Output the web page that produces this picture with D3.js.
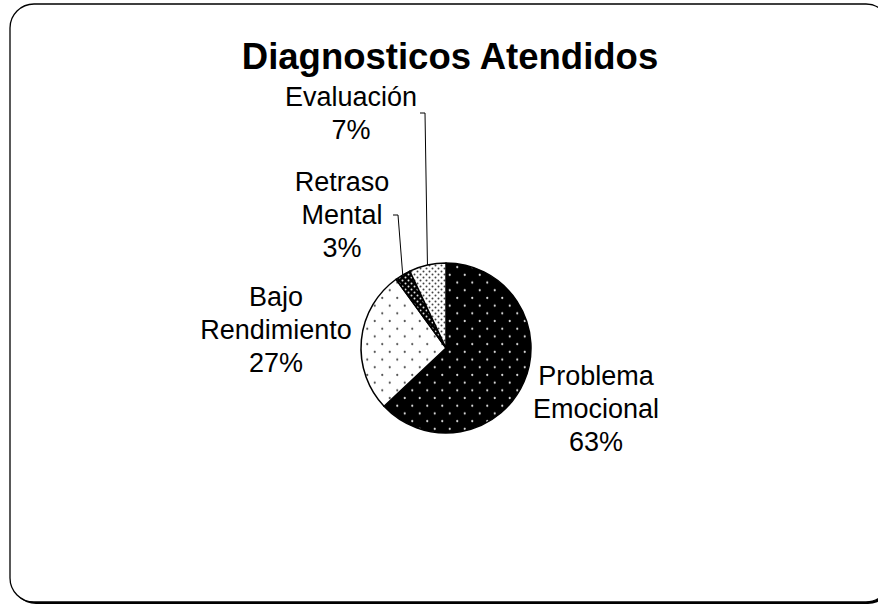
<!DOCTYPE html>
<html>
<head>
<meta charset="utf-8">
<script src="https://cdn.jsdelivr.net/npm/d3@7/dist/d3.min.js"></script>
<style>
  html, body { margin: 0; padding: 0; background: #fff; }
  svg { display: block; }
  text { font-family: "Liberation Sans", Arial, sans-serif; fill: #000; }
</style>
</head>
<body>
<svg id="chart" width="878" height="607"></svg>
<script>
// ---- data ----
const title = "Diagnosticos Atendidos";
const categories = ["Problema Emocional", "Bajo Rendimiento", "Retraso Mental", "Evaluación"];
const labelLines = [["Problema", "Emocional"], ["Bajo", "Rendimiento"], ["Retraso", "Mental"], ["Evaluación"]];
const values = [63, 27, 3, 7];
const percentLabels = ["63%", "27%", "3%", "7%"];

// ---- layout ----
const svg = d3.select("#chart");
const cx = 446, cy = 348, R = 85;

// patterns
const defs = svg.append("defs");
function dotPattern(id, bg, fg, w, h, r) {
  const p = defs.append("pattern").attr("id", id).attr("patternUnits", "userSpaceOnUse")
    .attr("width", w).attr("height", h);
  p.append("rect").attr("width", w).attr("height", h).attr("fill", bg);
  [[w / 4, h / 4], [3 * w / 4, 3 * h / 4]].forEach(([x, y]) =>
    p.append("circle").attr("cx", x).attr("cy", y).attr("r", r).attr("fill", fg));
}
dotPattern("pEmo", "#000", "#d8d8d8", 15, 15.4, 1.1);
dotPattern("pBajo", "#fff", "#555", 15, 15.4, 1.1);
dotPattern("pRet", "#000", "#e0e0e0", 6, 6, 1.0);
dotPattern("pEval", "#fff", "#444", 6, 6, 1.0);
const fills = ["url(#pEmo)", "url(#pBajo)", "url(#pRet)", "url(#pEval)"];

// frame with shadow
svg.append("rect").attr("x", 12).attr("y", 6).attr("width", 880).attr("height", 598)
  .attr("rx", 24).attr("ry", 24).attr("fill", "#000");
svg.append("rect").attr("x", 10).attr("y", 4).attr("width", 880).attr("height", 598)
  .attr("rx", 24).attr("ry", 24).attr("fill", "#fff").attr("stroke", "#000").attr("stroke-width", 1.3);

// title
svg.append("text").attr("x", 450).attr("y", 69).attr("text-anchor", "middle")
  .style("font-size", "36.5px").style("font-weight", "bold").text(title);

// pie
const pie = d3.pie().sort(null).value(d => d)(values);
const arc = d3.arc().innerRadius(0).outerRadius(R);
const g = svg.append("g").attr("transform", `translate(${cx},${cy})`);
g.selectAll("path").data(pie).join("path")
  .attr("d", arc).attr("fill", (d, i) => fills[i])
  .attr("stroke", "#000").attr("stroke-width", 1.5).attr("stroke-linejoin", "round");

// labels (anchor positions relative to pie centre)
const labelPos = [
  { x: 150, y: 37 },   // Problema Emocional (first line baseline)
  { x: -170, y: -42 }, // Bajo Rendimiento
  { x: -104, y: -157 }, // Retraso Mental
  { x: -95, y: -242 }  // Evaluación
];
const lh = 33;
const fs = 27;
pie.forEach((d, i) => {
  const lines = labelLines[i].concat([percentLabels[i]]);
  const t = g.append("text").attr("text-anchor", "middle").style("font-size", fs + "px");
  lines.forEach((ln, k) => {
    t.append("tspan").attr("x", labelPos[i].x).attr("y", labelPos[i].y + k * lh).text(ln);
  });
});

// leader lines for small slices
const leaders = [
  { i: 2, tick: [-53, -133], tickEnd: [-48, -133] },
  { i: 3, tick: [-26, -235], tickEnd: [-21, -235] }
];
leaders.forEach(L => {
  const d = pie[L.i];
  const mid = (d.startAngle + d.endAngle) / 2;
  const px = Math.sin(mid) * R, py = -Math.cos(mid) * R;
  g.append("polyline")
    .attr("points", `${L.tick[0]},${L.tick[1]} ${L.tickEnd[0]},${L.tickEnd[1]} ${px},${py}`)
    .attr("fill", "none").attr("stroke", "#000").attr("stroke-width", 1);
});
</script>
</body>
</html>
